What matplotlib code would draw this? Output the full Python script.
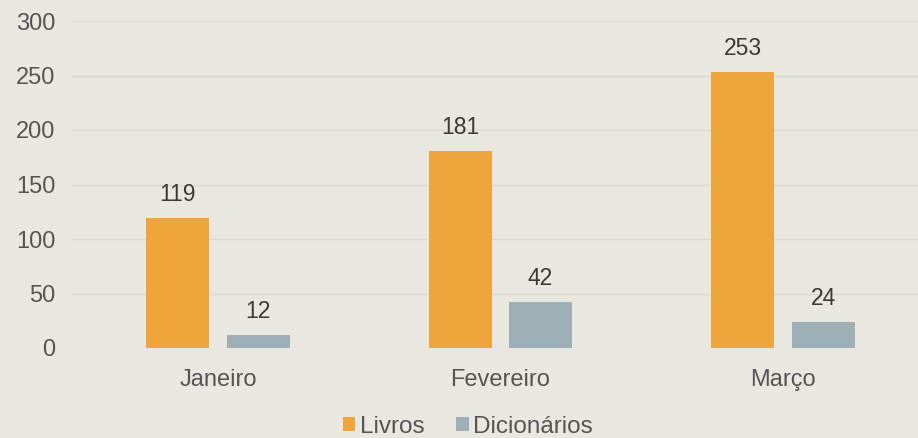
import numpy as np
from matplotlib import pyplot as plt

meses = ["Janeiro", "Fevereiro", "Março"]
livros = [119, 181, 253]
dicionarios = [12, 42, 24]
yticks = [0, 50, 100, 150, 200, 250, 300]

BG = "#E9E7DF"
LARANJA = "#EFA53B"
CINZA = "#9EAFB6"

plt.rcParams["font.family"] = ["Liberation Sans", "DejaVu Sans"]

fig = plt.figure(figsize=(9.18, 4.38), dpi=100, facecolor=BG)
ax = fig.add_axes([72 / 918, 90 / 438, 846 / 918, 327 / 438])
ax.set_facecolor(BG)

x = np.arange(len(meses))
w = 0.223
off = 0.1416
b1 = ax.bar(x - off, livros, w, color=LARANJA, label="Livros", zorder=3)
b2 = ax.bar(x + off, dicionarios, w, color=CINZA, label="Dicionários", zorder=3)

# rótulos de valor acima das barras
for bars in (b1, b2):
    for b in bars:
        ax.text(b.get_x() + b.get_width() / 2, b.get_height() + 11, str(int(b.get_height())),
                ha="center", va="bottom", fontsize=16.5, color="#3A3A3A")

ax.set_xlim((72 - 218) / 282.5, (918 - 218) / 282.5)
ax.set_ylim(0, 300)
ax.set_yticks(yticks)
ax.set_xticks(x)
ax.set_xticklabels(meses)
ax.yaxis.grid(True, color="#DAD8D0", linewidth=1, zorder=0)
for s in ax.spines.values():
    s.set_visible(False)
ax.tick_params(axis="both", length=0, labelsize=17, colors="#555555")
ax.tick_params(axis="y", pad=12)
ax.tick_params(axis="x", pad=15)

leg = fig.legend(handles=[b1, b2], loc="lower center", bbox_to_anchor=(0.51, -0.05), ncol=2,
                 frameon=False, fontsize=17.5, handlelength=0.5, handleheight=0.5,
                 handletextpad=0.2, columnspacing=1.3, labelcolor="#555555")

fig.savefig("out.png", dpi=100, facecolor=BG)
